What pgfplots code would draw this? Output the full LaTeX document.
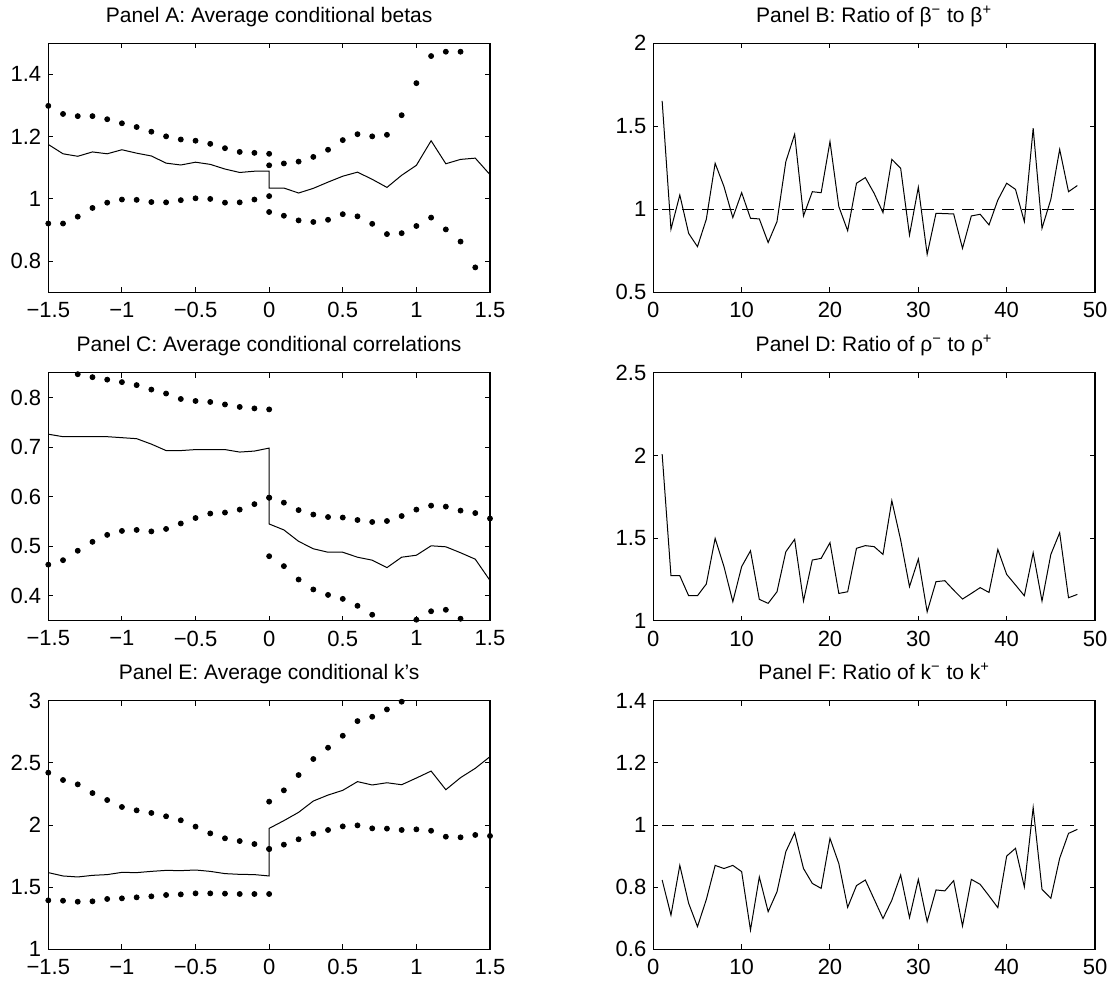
\documentclass[border=0pt]{standalone}
\usepackage{fontspec}
\setmainfont{Liberation Sans}
\usepackage{pgfplots}
\pgfplotsset{compat=1.18}

\pgfplotsset{
  panel/.style={
    scale only axis, width=220.85pt, anchor=north west,
    axis line style={line width=0.7pt}, tick style={line width=0.5pt, black},
    major tick length=2.5pt, tick align=inside,
    /pgf/number format/assume math mode=true,
    tick label style={font=\fontsize{11}{13}\selectfont},
    xticklabel style={yshift=-1.5pt},
    title style={font=\fontsize{10.5}{12}\selectfont, at={(0.5,1)}, anchor=base, yshift=4.5pt},
  },
  left/.style={xmin=-1.5, xmax=1.5, xtick={-1.5,-1,-0.5,0,0.5,1,1.5},
    xticklabels={−1.5,−1,−0.5,0,0.5,1,1.5}},
  right/.style={xmin=0, xmax=50, xtick={0,10,20,30,40,50}},
  dots/.style={black, only marks, mark=*, mark size=1.25pt},
  solid line/.style={black, line width=0.5pt},
  ref line/.style={black, line width=0.5pt, dash pattern=on 6pt off 4pt},
}

\begin{document}
\begin{tikzpicture}
\useasboundingbox (0,0) rectangle (556pt,-495pt);

% Panel A
\begin{axis}[panel, left, at={(24.15pt,-21.65pt)}, height=124.5pt,
  ymin=0.7, ymax=1.5, ytick={0.8,1,1.2,1.4},
  title={Panel A: Average conditional betas}]
\addplot[dots] coordinates {(-1.5,1.299) (-1.4,1.273) (-1.3,1.266) (-1.2,1.266) (-1.1,1.256) (-1.0,1.243) (-0.9,1.231) (-0.8,1.216) (-0.7,1.201) (-0.6,1.191) (-0.5,1.187) (-0.4,1.177) (-0.3,1.163) (-0.2,1.151) (-0.1,1.148) (0,1.145)};
\addplot[dots] coordinates {(0,1.108) (0.1,1.114) (0.2,1.120) (0.3,1.135) (0.4,1.158) (0.5,1.189) (0.6,1.208) (0.7,1.201) (0.8,1.206) (0.9,1.269) (1.0,1.372) (1.1,1.459) (1.2,1.473) (1.3,1.473)};
\addplot[dots] coordinates {(-1.5,0.921) (-1.4,0.921) (-1.3,0.943) (-1.2,0.971) (-1.1,0.988) (-1.0,0.998) (-0.9,0.997) (-0.8,0.990) (-0.7,0.989) (-0.6,0.996) (-0.5,1.002) (-0.4,1.000) (-0.3,0.988) (-0.2,0.989) (-0.1,0.998) (0,1.009)};
\addplot[dots] coordinates {(0,0.958) (0.1,0.946) (0.2,0.931) (0.3,0.926) (0.4,0.933) (0.5,0.951) (0.6,0.944) (0.7,0.920) (0.8,0.887) (0.9,0.890) (1.0,0.913) (1.1,0.940) (1.2,0.902) (1.3,0.863) (1.4,0.780)};
\addplot[solid line] coordinates {(-1.5,1.175) (-1.4,1.145) (-1.3,1.137) (-1.2,1.151) (-1.1,1.145) (-1.0,1.158) (-0.9,1.147) (-0.8,1.138) (-0.7,1.115) (-0.6,1.109) (-0.5,1.118) (-0.4,1.111) (-0.3,1.096) (-0.2,1.085) (-0.1,1.089) (0,1.089) (0,1.035) (0.1,1.035) (0.2,1.019) (0.3,1.034) (0.4,1.054) (0.5,1.073) (0.6,1.086) (0.7,1.063) (0.8,1.037) (0.9,1.076) (1.0,1.108) (1.1,1.187) (1.2,1.113) (1.3,1.127) (1.4,1.131) (1.5,1.078)};
\end{axis}

% Panel B
\begin{axis}[panel, right, at={(326.65pt,-21.65pt)}, height=124.5pt,
  ymin=0.5, ymax=2, ytick={0.5,1,1.5,2},
  title={Panel B: Ratio of β\textsuperscript{−} to β\textsuperscript{+}}]
\addplot[ref line] coordinates {(1,1) (48,1)};
\addplot[solid line] coordinates {(1,1.653) (2,0.880) (3,1.086) (4,0.855) (5,0.775) (6,0.940) (7,1.277) (8,1.137) (9,0.950) (10,1.100) (11,0.946) (12,0.942) (13,0.800) (14,0.926) (15,1.287) (16,1.452) (17,0.960) (18,1.106) (19,1.100) (20,1.408) (21,1.016) (22,0.871) (23,1.157) (24,1.191) (25,1.096) (26,0.980) (27,1.301) (28,1.247) (29,0.845) (30,1.133) (31,0.729) (32,0.976) (33,0.974) (34,0.972) (35,0.765) (36,0.960) (37,0.970) (38,0.906) (39,1.056) (40,1.157) (41,1.120) (42,0.926) (43,1.488) (44,0.886) (45,1.060) (46,1.361) (47,1.106) (48,1.143)};
\end{axis}

% Panel C
\begin{axis}[panel, left, at={(24.15pt,-186.35pt)}, height=124pt,
  ymin=0.35, ymax=0.85, ytick={0.4,0.5,0.6,0.7,0.8},
  title={Panel C: Average conditional correlations}]
\addplot[dots] coordinates {(-1.3,0.847) (-1.2,0.841) (-1.1,0.836) (-1.0,0.831) (-0.9,0.825) (-0.8,0.816) (-0.7,0.808) (-0.6,0.797) (-0.5,0.793) (-0.4,0.791) (-0.3,0.786) (-0.2,0.781) (-0.1,0.778) (0,0.776)};
\addplot[dots] coordinates {(0,0.598) (0.1,0.588) (0.2,0.573) (0.3,0.564) (0.4,0.559) (0.5,0.558) (0.6,0.553) (0.7,0.549) (0.8,0.551) (0.9,0.561) (1.0,0.574) (1.1,0.582) (1.2,0.580) (1.3,0.572) (1.4,0.567) (1.5,0.556)};
\addplot[dots] coordinates {(-1.5,0.463) (-1.4,0.472) (-1.3,0.491) (-1.2,0.509) (-1.1,0.523) (-1.0,0.531) (-0.9,0.533) (-0.8,0.530) (-0.7,0.535) (-0.6,0.546) (-0.5,0.557) (-0.4,0.566) (-0.3,0.568) (-0.2,0.574) (-0.1,0.585) (0,0.598)};
\addplot[dots] coordinates {(0,0.480) (0.1,0.460) (0.2,0.433) (0.3,0.413) (0.4,0.402) (0.5,0.394) (0.6,0.380) (0.7,0.362) (1.0,0.352) (1.1,0.369) (1.2,0.372) (1.3,0.354)};
\addplot[solid line] coordinates {(-1.5,0.726) (-1.4,0.721) (-1.3,0.721) (-1.2,0.721) (-1.1,0.721) (-1.0,0.719) (-0.9,0.717) (-0.8,0.706) (-0.7,0.693) (-0.6,0.693) (-0.5,0.695) (-0.4,0.695) (-0.3,0.695) (-0.2,0.690) (-0.1,0.692) (0,0.698) (0,0.545) (0.1,0.533) (0.2,0.510) (0.3,0.495) (0.4,0.488) (0.5,0.488) (0.6,0.478) (0.7,0.472) (0.8,0.457) (0.9,0.478) (1.0,0.482) (1.1,0.501) (1.2,0.499) (1.3,0.487) (1.4,0.474) (1.5,0.431)};
\end{axis}

% Panel D
\begin{axis}[panel, right, at={(326.65pt,-186.35pt)}, height=124pt,
  ymin=1, ymax=2.5, ytick={1,1.5,2,2.5},
  title={Panel D: Ratio of ρ\textsuperscript{−} to ρ\textsuperscript{+}}]
\addplot[solid line] coordinates {(1,2.008) (2,1.272) (3,1.272) (4,1.151) (5,1.151) (6,1.222) (7,1.498) (8,1.327) (9,1.115) (10,1.327) (11,1.423) (12,1.129) (13,1.105) (14,1.175) (15,1.417) (16,1.492) (17,1.119) (18,1.367) (19,1.377) (20,1.472) (21,1.165) (22,1.175) (23,1.438) (24,1.454) (25,1.448) (26,1.401) (27,1.726) (28,1.488) (29,1.206) (30,1.373) (31,1.054) (32,1.236) (33,1.242) (34,1.185) (35,1.131) (36,1.165) (37,1.200) (38,1.171) (39,1.431) (40,1.280) (41,1.216) (42,1.151) (43,1.411) (44,1.119) (45,1.401) (46,1.532) (47,1.139) (48,1.159)};
\end{axis}

% Panel E
\begin{axis}[panel, left, at={(24.15pt,-350.35pt)}, height=124.3pt,
  ymin=1, ymax=3, ytick={1,1.5,2,2.5,3},
  title={Panel E: Average conditional k’s}]
\addplot[dots] coordinates {(-1.5,2.421) (-1.4,2.362) (-1.3,2.327) (-1.2,2.257) (-1.1,2.201) (-1.0,2.145) (-0.9,2.118) (-0.8,2.097) (-0.7,2.070) (-0.6,2.038) (-0.5,1.987) (-0.4,1.933) (-0.3,1.893) (-0.2,1.871) (-0.1,1.847) (0,1.807)};
\addplot[dots] coordinates {(0,2.188) (0.1,2.279) (0.2,2.402) (0.3,2.531) (0.4,2.622) (0.5,2.718) (0.6,2.836) (0.7,2.871) (0.8,2.930) (0.9,2.992)};
\addplot[dots] coordinates {(-1.5,1.394) (-1.4,1.391) (-1.3,1.383) (-1.2,1.386) (-1.1,1.405) (-1.0,1.410) (-0.9,1.418) (-0.8,1.426) (-0.7,1.437) (-0.6,1.442) (-0.5,1.450) (-0.4,1.450) (-0.3,1.448) (-0.2,1.445) (-0.1,1.445) (0,1.445)};
\addplot[dots] coordinates {(0,1.807) (0.1,1.842) (0.2,1.885) (0.3,1.930) (0.4,1.960) (0.5,1.989) (0.6,1.997) (0.7,1.973) (0.8,1.971) (0.9,1.960) (1.0,1.965) (1.1,1.954) (1.2,1.906) (1.3,1.901) (1.4,1.920) (1.5,1.912)};
\addplot[solid line] coordinates {(-1.5,1.617) (-1.4,1.590) (-1.3,1.582) (-1.2,1.595) (-1.1,1.601) (-1.0,1.619) (-0.9,1.617) (-0.8,1.627) (-0.7,1.635) (-0.6,1.633) (-0.5,1.638) (-0.4,1.627) (-0.3,1.609) (-0.2,1.603) (-0.1,1.601) (0,1.590) (0,1.973) (0.1,2.035) (0.2,2.102) (0.3,2.193) (0.4,2.241) (0.5,2.279) (0.6,2.349) (0.7,2.322) (0.8,2.340) (0.9,2.324) (1.0,2.378) (1.1,2.434) (1.2,2.284) (1.3,2.381) (1.4,2.456) (1.5,2.550)};
\end{axis}

% Panel F
\begin{axis}[panel, right, at={(326.65pt,-350.35pt)}, height=124.3pt,
  ymin=0.6, ymax=1.4, ytick={0.6,0.8,1,1.2,1.4},
  title={Panel F: Ratio of k\textsuperscript{−} to k\textsuperscript{+}}]
\addplot[ref line] coordinates {(1,1) (48,1)};
\addplot[solid line] coordinates {(1,0.823) (2,0.710) (3,0.870) (4,0.748) (5,0.673) (6,0.760) (7,0.870) (8,0.860) (9,0.870) (10,0.850) (11,0.662) (12,0.833) (13,0.721) (14,0.785) (15,0.914) (16,0.975) (17,0.860) (18,0.812) (19,0.796) (20,0.957) (21,0.876) (22,0.735) (23,0.805) (24,0.823) (25,0.761) (26,0.699) (27,0.758) (28,0.839) (29,0.702) (30,0.825) (31,0.689) (32,0.791) (33,0.788) (34,0.821) (35,0.675) (36,0.825) (37,0.809) (38,0.772) (39,0.734) (40,0.900) (41,0.925) (42,0.801) (43,1.056) (44,0.793) (45,0.764) (46,0.893) (47,0.973) (48,0.986)};
\end{axis}
\end{tikzpicture}
\end{document}
